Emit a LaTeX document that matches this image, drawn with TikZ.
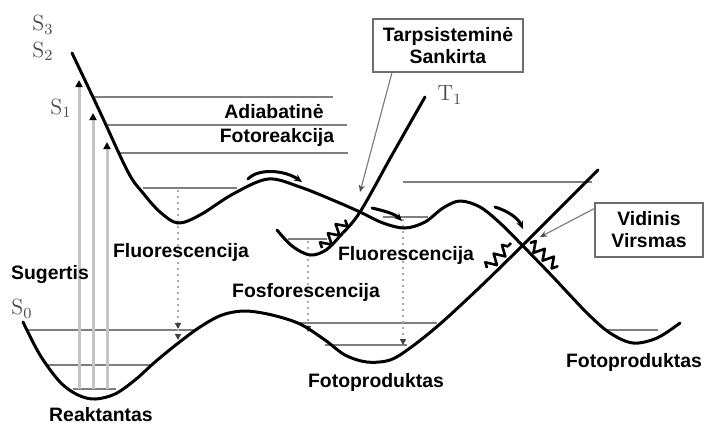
\documentclass[tikz,border=0pt]{standalone}
\usepackage{fontspec}
\setsansfont{Liberation Sans}
\usepackage{tikz}
\usetikzlibrary{arrows.meta,decorations.pathmorphing,positioning}
\definecolor{levelgray}{HTML}{7F7F7F}
\definecolor{absgray}{HTML}{C4C4C4}
\definecolor{dotgray}{HTML}{ABABAB}
\definecolor{boxgray}{HTML}{6E6E6E}
\definecolor{statelbl}{HTML}{4A4A55}

\begin{document}
\begin{tikzpicture}[x=0.5pt,y=-0.5pt,
  curve/.style={line width=1.5pt,line cap=round,draw=black},
  level/.style={line width=1pt,draw=levelgray},
  absorb/.style={line width=1.5pt,draw=absgray,-{Triangle[length=3.5pt,width=3.5pt,color=black]}},
  emit/.style={line width=1pt,draw=dotgray,dotted,-{Triangle[length=3pt,width=3pt,color=black!75]}},
  motion/.style={line width=1.5pt,line cap=round,-{Stealth[length=4pt,width=3.5pt]}},
  squiggle/.style={line width=1.3pt,line join=round,decorate,decoration={zigzag,segment length=6pt,amplitude=2.6pt}},
  lbl/.style={font=\sffamily\bfseries\fontsize{9.7}{11}\selectfont,inner sep=0pt},
  callout/.style={lbl,draw=boxgray,line width=1.2pt,fill=white,align=center},
  pointer/.style={line width=0.6pt,draw=gray,-{Stealth[length=3.5pt,width=3pt,color=black!70]}},
  state/.style={font=\fontsize{11}{13}\selectfont,text=statelbl,inner sep=0pt}
]
\useasboundingbox (0,0) rectangle (704,425);

\draw[level] (93,97) -- (333,97);
\draw[level] (106,125) -- (347,125);
\draw[level] (120,153) -- (348,153);
\draw[level] (143,188) -- (237,188);
\draw[level] (288,239) -- (327,239);
\draw[level] (383,217) -- (428,217);
\draw[level] (403,182) -- (592,182);
\draw[level] (28,330) -- (196,330);
\draw[level] (47,365) -- (152,365);
\draw[level] (73,389) -- (116,389);
\draw[level] (300,323) -- (437,323);
\draw[level] (325,345) -- (407,345);
\draw[level] (607,330) -- (658,330);

\draw[absorb] (79,389) -- (79,80);
\draw[absorb] (93,389) -- (93,113);
\draw[absorb] (107,389) -- (107,142);

\draw[emit] (178,190) -- (178,329);
\draw[emit] (178,329) -- (178,340);
\draw[emit] (308,241) -- (308,332);
\draw[emit] (403,219) -- (403,345);

\draw[curve] plot[smooth,tension=0.55] coordinates {(72,53) (100,112) (128,172) (143,193) (160,212) (178,223) (200,215) (233,194) (268,179) (300,187) (335,201) (360,212) (383,223) (405,228) (425,222) (443,208) (460,201) (480,207) (500,223) (523,246) (553,277) (587,313) (610,333) (633,343) (657,338) (680,323)};
\draw[curve] plot[smooth,tension=0.55] coordinates {(23,322) (40,355) (60,382) (78,395) (95,399) (115,394) (135,380) (155,362) (177,344) (200,327) (222,315) (245,311) (272,315) (300,324) (325,340) (345,355) (367,362) (390,360) (410,348) (440,324) (480,287) (523,245) (598,170)};
\draw[curve] plot[smooth,tension=0.55] coordinates {(277,230) (292,246) (310,255) (326,250) (340,236) (360,212) (392,155) (425,97)};

\draw[motion] (248,179) .. controls (258,168) and (285,170) .. (302,182);
\draw[motion] (372,208) .. controls (385,211) and (395,214) .. (402,221);
\draw[motion] (495,207) .. controls (508,211) and (518,218) .. (523,229);

\draw[squiggle] (322,248) -- (346,220);
\draw[squiggle] (487,268) -- (511,243);
\draw[squiggle] (530,243) -- (558,267);

\node[state] (s3) at (43,25) {S\textsubscript{3}};
\node[state] (s2) at (43,51) {S\textsubscript{2}};
\node[state] (s1) at (61,108) {S\textsubscript{1}};
\node[state] (s0) at (22,309) {S\textsubscript{0}};
\node[state] (t1) at (450,95) {T\textsubscript{1}};

\node[lbl] (adiab) at (274,112) {Adiabatinė};
\node[lbl] (fotoreak) at (277,137) {Fotoreakcija};
\node[lbl] (sugertis) at (50,275) {Sugertis};
\node[lbl] (fluorL) at (181,252) {Fluorescencija};
\node[lbl] (fluorR) at (406,255) {Fluorescencija};
\node[lbl] (fosfor) at (306,292) {Fosforescencija};
\node[lbl] (reakt) at (101,415) {Reaktantas};
\node[lbl] (fotoprodM) at (376,382) {Fotoproduktas};
\node[lbl] (fotoprodR) at (634,362) {Fotoproduktas};

\node[callout,minimum width=75pt,minimum height=26.5pt] (tarp) at (448,45.5) {Tarpsisteminė\\Sankirta};
\node[callout,minimum width=54pt,minimum height=27pt] (vidin) at (649,230) {Vidinis\\Virsmas};
\coordinate (isc) at (360,192);
\coordinate (ic) at (540,237);
\draw[pointer] ([xshift=10pt]tarp.south west) -- (isc);
\draw[pointer] ([yshift=-3.5pt]vidin.north west) -- (ic);
\end{tikzpicture}
\end{document}
